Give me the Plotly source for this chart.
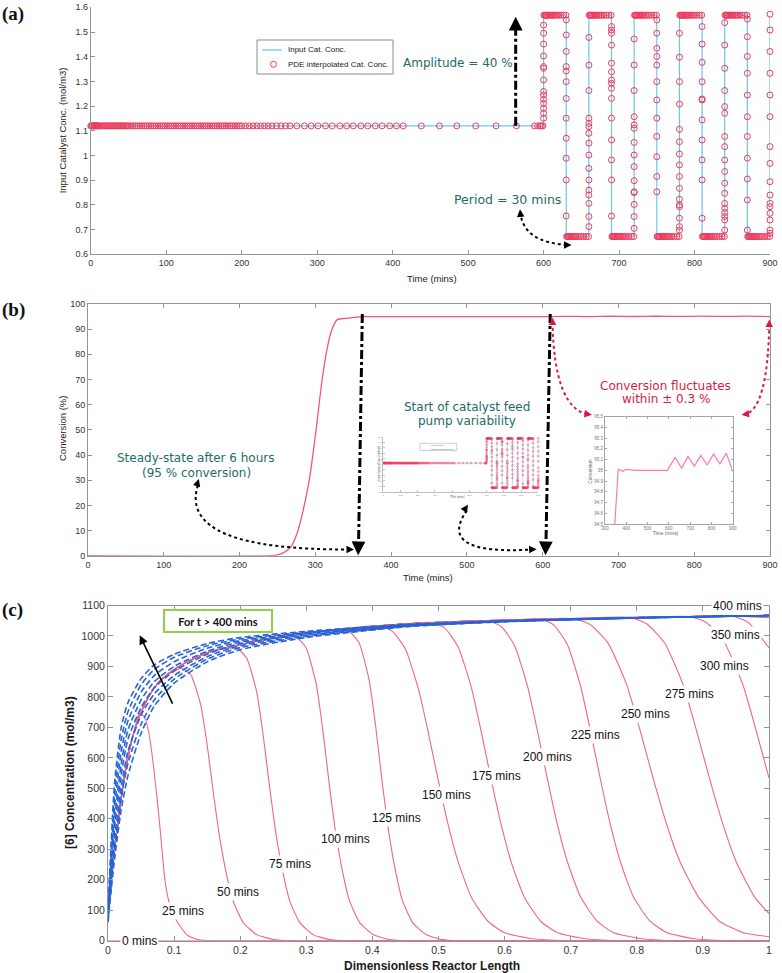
import plotly.graph_objects as go

W, H = 782, 973


def px(x):
    return x / W


def py(y):
    return 1 - y / H


# ======================= DATA =======================
# ---- (a) input catalyst concentration (mol/m3) vs time (mins)
input_t = [0, 600, 600, 630, 630, 660, 660, 690, 690, 720, 720, 750, 750, 780, 780,
           810, 810, 840, 840, 870, 870, 900, 900]
input_c = [1.12, 1.12, 1.568, 1.568, 0.672, 0.672, 1.568, 1.568, 0.672, 0.672, 1.568, 1.568,
           0.672, 0.672, 1.568, 1.568, 0.672, 0.672, 1.568, 1.568, 0.672, 0.672, 1.568]
base_c = 1.12
high_c = 1.568
low_c = 0.672

# PDE interpolated points on the initial steady level
steady_t = [0, 1, 2, 3, 4, 5, 6, 7, 8, 9, 10, 12, 14, 16, 18, 20, 22, 24, 26, 28, 30, 32, 34, 36,
            38, 40, 42, 44, 46, 48, 50, 53, 56, 59, 62, 65, 68, 71, 74, 77, 80, 83, 86, 89, 92,
            95, 98, 101, 104, 107, 110, 113, 116, 119, 122, 125, 128, 131, 134, 137, 140, 143,
            146, 149, 152, 155, 158, 161, 164, 167, 170, 173, 176, 179, 182, 185, 188, 191, 194,
            197, 200, 205, 210, 215, 220, 225, 230, 235, 240, 246, 252, 258, 264, 273, 283, 292,
            301, 311, 320, 330, 339, 348, 358, 367, 377, 386, 396, 405, 414, 438, 462, 485, 510,
            537, 564, 588, 592, 595, 597, 599]
# points on the high / low plateaus
high_hold_t = [600.5, 601.5, 602.5, 603.5, 605, 606.5, 608, 609.5, 611, 613, 615, 617.5, 620, 623, 626.5, 629.5,
               660.5, 661.5, 662.5, 663.5, 665, 666.5, 668, 669.5, 671, 673, 675, 677.5, 680, 683, 686.5, 689.5,
               720.5, 721.5, 722.5, 723.5, 725, 726.5, 728, 729.5, 731, 733, 735, 737.5, 740, 743, 746.5, 749.5,
               780.5, 781.5, 782.5, 783.5, 785, 786.5, 788, 789.5, 791, 793, 795, 797.5, 800, 803, 806.5, 809.5,
               840.5, 841.5, 842.5, 843.5, 845, 846.5, 848, 849.5, 851, 853, 855, 857.5, 860, 863, 866.5, 869.5]
low_hold_t = [630.5, 631.5, 632.5, 633.5, 635, 636.5, 638, 639.5, 641, 643, 645, 647.5, 650, 653, 656.5, 659.5,
              690.5, 691.5, 692.5, 693.5, 695, 696.5, 698, 699.5, 701, 703, 705, 707.5, 710, 713, 716.5, 719.5,
              750.5, 751.5, 752.5, 753.5, 755, 756.5, 758, 759.5, 761, 763, 765, 767.5, 770, 773, 776.5, 779.5,
              810.5, 811.5, 812.5, 813.5, 815, 816.5, 818, 819.5, 821, 823, 825, 827.5, 830, 833, 836.5, 839.5,
              870.5, 871.5, 872.5, 873.5, 875, 876.5, 878, 879.5, 881, 883, 885, 887.5, 890, 893, 896.5, 899.5]
# points on the switching edges
edge_times = [600, 630, 660, 690, 720, 750, 780, 810, 840, 870, 900]
edge600_c = [1.528, 1.495, 1.451, 1.403, 1.360, 1.353, 1.306, 1.259, 1.245, 1.227, 1.211, 1.191, 1.171, 1.151]
edge630_c = [1.549, 1.488, 1.421, 1.360, 1.342, 1.299, 1.231, 1.151, 1.070, 0.989, 0.901, 0.755]
edge660_c = [0.712, 0.753, 0.806, 0.840, 0.860, 0.901, 0.948, 1.002, 1.050, 1.090, 1.117, 1.130, 1.151,
             1.263, 1.366, 1.478]
edge690_c = [1.522, 1.508, 1.495, 1.447, 1.374, 1.339, 1.306, 1.292, 1.272, 1.231, 1.151, 1.063, 0.982,
             0.901, 0.755]
edge720_c = [0.705, 0.753, 0.802, 0.850, 0.853, 0.898, 0.955, 1.002, 1.053, 1.110, 1.124, 1.157, 1.263,
             1.366, 1.472]
edge750_c = [1.549, 1.495, 1.434, 1.401, 1.366, 1.299, 1.225, 1.151, 1.077, 0.995, 0.915, 0.853]
edge780_c = [0.698, 0.712, 0.746, 0.793, 0.800, 0.823, 0.867, 0.915, 0.962, 1.006, 1.056, 1.106, 1.208,
             1.299, 1.398, 1.495]
edge810_c = [1.522, 1.451, 1.377, 1.299, 1.229, 1.225, 1.144, 1.063, 0.982, 0.901, 0.746]
edge840_c = [0.698, 0.739, 0.753, 0.769, 0.786, 0.806, 0.847, 0.888, 0.935, 0.982, 1.036, 1.077, 1.171,
             1.198, 1.263, 1.353, 1.447, 1.538]
edge870_c = [1.552, 1.481, 1.401, 1.333, 1.245, 1.157, 1.077, 0.989, 0.905, 0.820, 0.698]
edge900_c = [0.685, 0.698, 0.739, 0.766, 0.793, 0.806, 0.840, 0.894, 0.968, 1.036, 1.157, 1.245, 1.333,
             1.421, 1.508, 1.572]
edge_lists = [edge600_c, edge630_c, edge660_c, edge690_c, edge720_c, edge750_c, edge780_c,
              edge810_c, edge840_c, edge870_c, edge900_c]

a_xticks = [0, 100, 200, 300, 400, 500, 600, 700, 800, 900]
a_yticks = [0.6, 0.7, 0.8, 0.9, 1.0, 1.1, 1.2, 1.3, 1.4, 1.5, 1.6]
a_yticktext = ["0.6", "0.7", "0.8", "0.9", "1", "1.1", "1.2", "1.3", "1.4", "1.5", "1.6"]

# ---- (b) conversion (%) vs time (mins)
conv_t = [0, 240, 250, 260, 268, 276, 283, 292, 301, 309, 316, 322, 329, 340, 347, 355, 362, 375,
          383, 397, 441, 593, 630, 660, 690, 720, 750, 780, 810, 840, 870, 900]
conv = [0, 0, 0.3, 1.5, 3.6, 9, 16.8, 30, 50, 70, 83, 90, 93.8, 94.3, 94.5, 94.8, 95.01, 95.0,
        94.99, 95.01, 95.0, 95.0, 95.12, 95.02, 95.13, 95.04, 95.14, 95.05, 95.15, 95.06, 95.16, 94.99]
b_yticks = [0, 10, 20, 30, 40, 50, 60, 70, 80, 90, 100]
inset_yticks = [94.5, 94.6, 94.7, 94.8, 94.9, 95.0, 95.1, 95.2, 95.3, 95.4, 95.5]
inset_yticktext = ["94.5", "94.6", "94.7", "94.8", "94.9", "95", "95.1", "95.2", "95.3", "95.4", "95.5"]
inset_xticks = [300, 400, 500, 600, 700, 800, 900]

# ---- (c) [6] concentration profiles along the reactor
env_x = [0, 0.005, 0.01, 0.02, 0.03, 0.04, 0.05, 0.06, 0.07, 0.08, 0.1, 0.12, 0.15, 0.2, 0.25,
         0.3, 0.35, 0.4, 0.45, 0.5, 0.6, 0.7, 0.8, 0.85, 0.9, 0.95, 1.0]
env_c = [85, 200, 300, 470, 600, 690, 750, 795, 830, 855, 890, 915, 945, 972, 993, 1010, 1022,
         1032, 1040, 1045, 1052, 1057, 1061, 1063, 1065, 1066, 1068]

x_t0 = [0, 1.0]
c_t0 = [0, 0]
x_t25 = env_x[:6] + [0.047, 0.055, 0.062, 0.069, 0.075, 0.08, 0.086, 0.092, 0.1, 0.11, 0.12, 0.135, 0.16, 1.0]
c_t25 = env_c[:6] + [745, 735, 680, 570, 450, 340, 200, 130, 80, 45, 18, 4, 0, 0]
x_t50 = env_x[:10] + [0.09, 0.11, 0.125, 0.14, 0.15, 0.16, 0.17, 0.18, 0.19, 0.205, 0.225, 0.25, 0.28, 1.0]
c_t50 = env_c[:10] + [873, 894, 874, 776, 643, 475, 325, 211, 126, 58, 20, 4, 0, 0]
x_t75 = env_x[:13] + [0.175, 0.195, 0.21, 0.225, 0.235, 0.245, 0.255, 0.265, 0.275, 0.29, 0.31, 0.335, 0.365, 1.0]
c_t75 = env_c[:13] + [958, 959, 927, 816, 671, 496, 338, 220, 130, 60, 20, 4, 0, 0]
x_t100 = env_x[:15] + [0.265, 0.285, 0.30, 0.315, 0.325, 0.335, 0.345, 0.355, 0.365, 0.38, 0.40, 0.425, 0.455, 1.0]
c_t100 = env_c[:15] + [998, 995, 960, 842, 691, 509, 347, 225, 133, 62, 21, 4, 0, 0]
x_t125 = env_x[:16] + [0.345, 0.365, 0.38, 0.395, 0.405, 0.415, 0.425, 0.435, 0.445, 0.46, 0.48, 0.505, 0.535, 1.0]
c_t125 = env_c[:16] + [1021, 1015, 977, 856, 702, 517, 352, 228, 135, 62, 21, 4, 0, 0]
x_t150 = env_x[:17] + [0.41, 0.43, 0.45, 0.47, 0.485, 0.50, 0.515, 0.53, 0.55, 0.575, 0.60, 0.64, 0.69, 1.0]
c_t150 = env_c[:17] + [1034, 1016, 957, 823, 679, 523, 377, 257, 141, 63, 26, 7, 0, 0]
x_t175 = env_x[:19] + [0.49, 0.51, 0.53, 0.55, 0.565, 0.58, 0.595, 0.61, 0.63, 0.655, 0.68, 0.72, 0.77, 1.0]
c_t175 = env_c[:19] + [1044, 1025, 963, 828, 682, 525, 379, 258, 142, 63, 26, 7, 0, 0]
x_t200 = env_x[:20] + [0.575, 0.595, 0.615, 0.635, 0.65, 0.665, 0.68, 0.695, 0.715, 0.74, 0.765, 0.805, 0.855, 1.0]
c_t200 = env_c[:20] + [1050, 1031, 969, 832, 685, 528, 380, 259, 143, 64, 26, 7, 0, 0]
x_t225 = env_x[:21] + [0.655, 0.675, 0.695, 0.715, 0.73, 0.745, 0.76, 0.775, 0.795, 0.82, 0.845, 0.885, 0.935, 1.0]
c_t225 = env_c[:21] + [1055, 1035, 972, 835, 688, 529, 381, 260, 143, 64, 27, 7, 0, 0]
x_t250 = env_x[:21] + [0.705, 0.73, 0.757, 0.785, 0.805, 0.825, 0.845, 0.865, 0.893, 0.925, 0.96, 1.0]
c_t250 = env_c[:21] + [1057, 1037, 975, 838, 690, 531, 383, 261, 144, 64, 27, 13]
x_t275 = env_x[:22] + [0.79, 0.815, 0.842, 0.87, 0.89, 0.91, 0.93, 0.95, 0.978, 1.0]
c_t275 = env_c[:22] + [1061, 1040, 978, 840, 692, 533, 384, 261, 144, 89]
x_t300 = env_x[:23] + [0.88, 0.905, 0.932, 0.96, 0.98, 1.0]
c_t300 = env_c[:23] + [1064, 1044, 981, 843, 694, 534]
x_t350 = env_x[:25] + [0.943, 0.968, 1.0]
c_t350 = env_c[:25] + [1066, 1046, 961]
x_t400 = env_x[:26] + [1.0]
c_t400 = env_c[:26] + [1060]
pink_x = [x_t0, x_t25, x_t50, x_t75, x_t100, x_t125, x_t150, x_t175, x_t200, x_t225, x_t250,
          x_t275, x_t300, x_t350, x_t400]
pink_c = [c_t0, c_t25, c_t50, c_t75, c_t100, c_t125, c_t150, c_t175, c_t200, c_t225, c_t250,
          c_t275, c_t300, c_t350, c_t400]

# blue dashed profiles, t > 400 mins
blue_x = [0, 0.005, 0.01, 0.02, 0.03, 0.05, 0.07, 0.1, 0.15, 0.2, 0.3, 0.45, 0.6, 0.8, 1.0]
blue1 = [100, 330, 520, 700, 780, 860, 905, 940, 975, 995, 1015, 1038, 1050, 1060, 1067]
blue2 = [95, 300, 480, 660, 750, 840, 890, 930, 968, 990, 1012, 1036, 1049, 1060, 1067]
blue3 = [90, 270, 440, 620, 720, 815, 870, 915, 960, 985, 1010, 1035, 1049, 1060, 1067]
blue4 = [80, 245, 400, 580, 690, 790, 850, 900, 950, 980, 1007, 1034, 1048, 1060, 1067]
blue5 = [75, 225, 370, 545, 660, 765, 830, 885, 940, 975, 1004, 1033, 1048, 1059, 1067]
blue6 = [70, 205, 335, 505, 620, 740, 810, 870, 932, 968, 1001, 1032, 1048, 1059, 1067]
blue7 = [65, 185, 300, 470, 580, 710, 790, 858, 924, 962, 998, 1031, 1047, 1059, 1067]
blue8 = [60, 170, 270, 430, 540, 680, 770, 845, 915, 955, 995, 1030, 1047, 1059, 1067]
blue_curves = [blue1, blue2, blue3, blue4, blue5, blue6, blue7, blue8]

lab_text = ["0 mins", "25 mins", "50 mins", "75 mins", "100 mins", "125 mins", "150 mins",
            "175 mins", "200 mins", "225 mins", "250 mins", "275 mins", "300 mins", "350 mins", "400 mins"]
lab_x = [0.048, 0.113, 0.197, 0.275, 0.359, 0.437, 0.512, 0.588, 0.665, 0.738, 0.813, 0.880,
         0.933, 0.950, 0.953]
lab_y = [0, 97, 161, 251, 333, 403, 478, 541, 603, 674, 743, 808, 903, 1002, 1100]

c_xticks = [0, 0.1, 0.2, 0.3, 0.4, 0.5, 0.6, 0.7, 0.8, 0.9, 1.0]
c_xticktext = ["0", "0.1", "0.2", "0.3", "0.4", "0.5", "0.6", "0.7", "0.8", "0.9", "1"]
c_yticks = [0, 100, 200, 300, 400, 500, 600, 700, 800, 900, 1000, 1100]

# ======================= BUILD =======================
pde_t = steady_t + high_hold_t + low_hold_t
pde_c = [base_c] * len(steady_t) + [high_c] * len(high_hold_t) + [low_c] * len(low_hold_t)
for et, vals in zip(edge_times, edge_lists):
    pde_t = pde_t + [et] * len(vals)
    pde_c = pde_c + vals

BLUE_IN = "#6cc7e6"
RED_M = "#ef3a5d"
PINK = "#f2648a"
TEAL = "#1e6b68"
CRIMSON = "#d81b43"
AXG = "#8c9898"
SANS = "Liberation Sans, Arial, sans-serif"
DJ = "DejaVu Sans, Verdana, sans-serif"

fig = go.Figure()

# (a)
fig.add_trace(go.Scatter(x=input_t, y=input_c, mode="lines", name="Input Cat. Conc.",
                         line=dict(color=BLUE_IN, width=1.2), xaxis="x", yaxis="y", showlegend=False))
fig.add_trace(go.Scatter(x=pde_t, y=pde_c, mode="markers", name="PDE interpolated Cat. Conc.",
                         marker=dict(symbol="circle-open", size=6, color=RED_M, line=dict(width=1)),
                         cliponaxis=False, xaxis="x", yaxis="y", showlegend=False))
# (b)
fig.add_trace(go.Scatter(x=conv_t, y=conv, mode="lines",
                         line=dict(color="#f2557d", width=1.3, shape="spline", smoothing=0.8),
                         xaxis="x2", yaxis="y2", showlegend=False))
# (b) left inset (miniature of a)
fig.add_trace(go.Scatter(x=input_t, y=input_c, mode="lines", line=dict(color=BLUE_IN, width=0.5),
                         xaxis="x4", yaxis="y4", showlegend=False))
fig.add_trace(go.Scatter(x=pde_t, y=pde_c, mode="markers",
                         marker=dict(symbol="circle-open", size=1.8, color=RED_M, line=dict(width=0.5)),
                         cliponaxis=False, xaxis="x4", yaxis="y4", showlegend=False))
# (b) right inset
fig.add_trace(go.Scatter(x=conv_t, y=conv, mode="lines", line=dict(color="#ff78ad", width=1.2),
                         xaxis="x5", yaxis="y5", showlegend=False))
# (c)
for xs, cs in zip(pink_x, pink_c):
    fig.add_trace(go.Scatter(x=xs, y=cs, mode="lines", line=dict(color=PINK, width=1.1, shape="spline",
                                                                smoothing=0.5),
                             xaxis="x3", yaxis="y3", showlegend=False))
for cs in blue_curves:
    fig.add_trace(go.Scatter(x=blue_x, y=cs, mode="lines",
                             line=dict(color="#2563d9", width=1.6, dash="6px,3px", shape="spline",
                                       smoothing=0.6),
                             xaxis="x3", yaxis="y3", showlegend=False))


def axis(domain, rng, anchor, size=9, mirror=False, **kw):
    d = dict(domain=domain, range=rng, anchor=anchor, showgrid=False, zeroline=False,
             showline=True, linecolor=AXG, linewidth=1, mirror=mirror, ticks="inside",
             ticklen=4, tickcolor=AXG, tickwidth=1, automargin=False,
             tickfont=dict(family=SANS, size=size, color="#333333"))
    d.update(kw)
    return d


fig.update_layout(
    template="none",
    width=W, height=H, autosize=False, margin=dict(l=0, r=0, t=0, b=0, pad=0),
    paper_bgcolor="white", plot_bgcolor="rgba(0,0,0,0)",
    font=dict(family=SANS),
    xaxis=axis([px(90.8), px(770)], [0, 900], "y", tickvals=a_xticks),
    yaxis=axis([py(254.3), py(7.3)], [0.6, 1.6], "x", tickvals=a_yticks, ticktext=a_yticktext),
    xaxis2=axis([px(88), px(770)], [0, 900], "y2", mirror="ticks", tickvals=a_xticks),
    yaxis2=axis([py(555.7), py(304)], [0, 100], "x2", mirror="ticks", tickvals=b_yticks),
    xaxis3=axis([px(108), px(769)], [0, 1], "y3", size=10.5, mirror="ticks", ticklen=5,
                tickvals=c_xticks, ticktext=c_xticktext),
    yaxis3=axis([py(940.7), py(605.5)], [0, 1100], "x3", size=10.5, mirror="ticks", ticklen=5,
                tickvals=c_yticks),
    xaxis4=axis([px(383.3), px(538.3)], [0, 900], "y4", size=2.5, ticklen=1.5, linecolor="#b8c0c0",
                tickcolor="#b8c0c0", tickvals=a_xticks),
    yaxis4=axis([py(491.7), py(436.7)], [0.6, 1.6], "x4", size=2.5, ticklen=1.5, linecolor="#b8c0c0",
                tickcolor="#b8c0c0", tickvals=a_yticks, ticktext=a_yticktext),
    xaxis5=axis([px(605), px(732.7)], [300, 900], "y5", size=4.5, mirror="ticks", ticklen=2,
                linecolor="#a0a8a8", tickcolor="#a0a8a8", tickvals=inset_xticks),
    yaxis5=axis([py(524), py(416.7)], [94.5, 95.5], "x5", size=4.5, mirror="ticks", ticklen=2,
                linecolor="#a0a8a8", tickcolor="#a0a8a8", tickvals=inset_yticks, ticktext=inset_yticktext),
)
for k in ["xaxis4", "yaxis4", "xaxis5", "yaxis5"]:
    fig.layout[k].tickfont.color = "#777777"

shapes = []
ann = []


def head(x, y, xr, yr, ax, ay, color="black", w=1.5, s=1.0):
    ann.append(dict(x=x, y=y, xref=xr, yref=yr, ax=ax, ay=ay, axref="pixel", ayref="pixel", text="",
                    showarrow=True, arrowhead=2, arrowsize=s, arrowwidth=w, arrowcolor=color, standoff=0))


def text(x, y, t, size, color="#222222", family=SANS, angle=0, xanchor="center", **kw):
    d = dict(x=px(x), y=py(y), xref="paper", yref="paper", text=t, showarrow=False, textangle=angle,
             xanchor=xanchor, yanchor="middle", font=dict(family=family, size=size, color=color))
    d.update(kw)
    ann.append(d)


# ---- (a) decorations
shapes.append(dict(type="line", xref="x", yref="y", x0=563, y0=1.12, x1=563, y1=1.53,
                   line=dict(color="black", width=3, dash="dashdot")))
head(563, 1.562, "x", "y", 0, 12, w=2.5, s=1.1)
shapes.append(dict(type="path", xref="x", yref="y", path="M 569,0.772 Q 573,0.645 634,0.638",
                   line=dict(color="black", width=2, dash="dot")))
head(568.7, 0.782, "x", "y", 0.8, 8, w=1.5)
head(637, 0.638, "x", "y", -8, 0, w=1.5)
text(458, 63.3, "Amplitude = 40 %", 12, TEAL, DJ)
text(507.5, 200, "Period = 30 mins", 12.5, TEAL, DJ)
# legend (a)
shapes.append(dict(type="rect", xref="paper", yref="paper", x0=px(257), x1=px(393), y0=py(74), y1=py(40),
                   line=dict(color="#8a8a8a", width=1), fillcolor="white"))
shapes.append(dict(type="line", xref="paper", yref="paper", x0=px(262), x1=px(282), y0=py(50), y1=py(50),
                   line=dict(color=BLUE_IN, width=1.2)))
shapes.append(dict(type="circle", xref="paper", yref="paper", x0=px(270.5), x1=px(276.5), y0=py(67.3),
                   y1=py(61.3), line=dict(color=RED_M, width=1)))
text(286, 50, "Input Cat. Conc.", 8, "#222222", xanchor="left")
text(286, 64.3, "PDE interpolated Cat. Conc.", 8, "#222222", xanchor="left")
text(431.7, 278.3, "Time (mins)", 9.5)
text(62.5, 130.8, "Input Catalyst Conc. (mol/m3)", 9.5, angle=-90)
text(12.5, 14, "<b>(a)</b>", 19, "#111111", "Liberation Serif, Times New Roman, serif")

# ---- (b) decorations
shapes.append(dict(type="line", xref="x2", yref="y2", x0=362, y0=96, x1=357, y1=4,
                   line=dict(color="black", width=3, dash="dashdot")))
head(356.5, 0.2, "x2", "y2", 0.3, -12, w=2.5, s=1.1)
shapes.append(dict(type="line", xref="x2", yref="y2", x0=610, y0=96, x1=604.3, y1=4,
                   line=dict(color="black", width=3, dash="dashdot")))
head(603.7, 0.2, "x2", "y2", 0.3, -12, w=2.5, s=1.1)
shapes.append(dict(type="path", xref="x2", yref="y2", path="M 145,28 Q 118,2 347,2.5",
                   line=dict(color="black", width=2, dash="dot")))
head(146.3, 30.5, "x2", "y2", -2.4, 7.6)
head(351, 2.5, "x2", "y2", -8, 0)
shapes.append(dict(type="path", xref="x2", yref="y2", path="M 500,18 Q 458,0 588,2.5",
                   line=dict(color="black", width=2, dash="dot")))
head(501.5, 20.2, "x2", "y2", -4.6, 6.6)
head(592, 2.6, "x2", "y2", -8, 0.3)
shapes.append(dict(type="path", xref="x2", yref="y2", path="M 613,93 Q 615,58 662,56",
                   line=dict(color=CRIMSON, width=2, dash="dot")))
head(613, 94.6, "x2", "y2", 0, 8, color=CRIMSON)
head(665, 56, "x2", "y2", -8, -1, color=CRIMSON)
shapes.append(dict(type="path", xref="x2", yref="y2", path="M 899,92 Q 897,58 866,56",
                   line=dict(color=CRIMSON, width=2, dash="dot")))
head(899, 93.8, "x2", "y2", 0, 8, color=CRIMSON)
head(862.5, 56, "x2", "y2", 8, -1, color=CRIMSON)
text(196, 457.7, "Steady-state after 6 hours", 12, TEAL, DJ)
text(196, 472.7, "(95 % conversion)", 12, TEAL, DJ)
text(466.7, 406.7, "Start of catalyst feed", 12, TEAL, DJ)
text(466.7, 420.7, "pump variability", 12, TEAL, DJ)
text(665.7, 386, "Conversion fluctuates", 12, CRIMSON, DJ)
text(665.7, 399.3, "within ± 0.3 %", 12, CRIMSON, DJ)
text(428, 577, "Time (mins)", 9.5)
text(62, 429, "Conversion (%)", 9.5, angle=-90)
text(13, 310.5, "<b>(b)</b>", 19, "#111111", "Liberation Serif, Times New Roman, serif")
# inset decorations
shapes.append(dict(type="rect", xref="paper", yref="paper", x0=px(420), x1=px(456.7), y0=py(450.5),
                   y1=py(443.3), line=dict(color="#b0b0b0", width=0.6), fillcolor="white"))
text(429, 445.2, "Input Cat. Conc.", 1.8, "#555555", xanchor="left")
text(429, 448.6, "PDE interpolated Cat. Conc.", 1.8, "#555555", xanchor="left")
text(457.7, 496.7, "Time (mins)", 2.8, "#666666")
text(378.5, 464, "Input Catalyst Conc. (mol/m3)", 2.6, "#666666", angle=-90)
text(666, 533.5, "Time (mins)", 4.8, "#666666")
text(591, 471.7, "Conversion", 4.8, "#666666", angle=-90)

# ---- (c) decorations
for t, xx, yy in zip(lab_text, lab_x, lab_y):
    ann.append(dict(x=xx, y=yy, xref="x3", yref="y3", text=t, showarrow=False, bgcolor="white",
                    borderpad=1, font=dict(family=SANS, size=12, color="#111111")))
ann.append(dict(x=0.048, y=1002, xref="x3", yref="y3", ax=0.0988, ay=773, axref="x3", ayref="y3",
                text="", showarrow=True, arrowhead=2, arrowsize=1.1, arrowwidth=1.6, arrowcolor="black",
                standoff=0))
ann.append(dict(x=px(163), y=py(621), xref="paper", yref="paper", text="<b>For t > 400 mins</b>",
                showarrow=False, bgcolor="white", bordercolor="#8ed04b", borderwidth=2, borderpad=3,
                width=100, height=14, font=dict(family="Lato, Open Sans, sans-serif", size=11, color="#111111")))
text(432, 966, "<b>Dimensionless Reactor Length</b>", 12, "#1a1a1a")
text(70, 773, "<b>[6] Concentration (mol/m3)</b>", 12, "#1a1a1a", angle=-90)
text(12.5, 610, "<b>(c)</b>", 19, "#111111", "Liberation Serif, Times New Roman, serif")

fig.update_layout(shapes=shapes, annotations=ann)
fig.write_html("out.html", config={"displayModeBar": False},
               post_script="document.body.style.margin='0';document.body.style.overflow='hidden';")
